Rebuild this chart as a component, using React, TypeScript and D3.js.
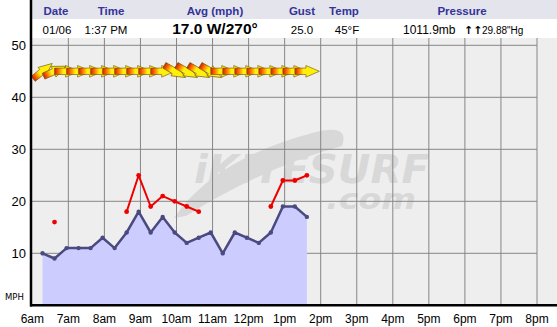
import React from "react";
import * as d3 from "d3";

const times = ["06:17","06:37","06:57","07:17","07:37","07:57","08:17","08:37","08:57","09:17","09:37","09:57","10:17","10:37","10:57","11:17","11:37","11:57","12:17","12:37","12:57","13:17","13:37"];
const avgSpeed = [10,9,11,11,11,13,11,14,18,14,17,14,12,13,14,10,14,13,12,14,19,19,17];
const gustSpeed: (number | null)[] = [null,16,null,null,null,null,null,18,25,19,21,20,19,18,null,null,null,null,null,19,24,24,25];
const windDir = [231,246,270,270,270,270,270,270,270,270,270,300,300,300,300,270,270,270,270,270,270,270,270];
const yTicks = [10,20,30,40,50];
const headerLabels = ["Date","Time","Avg (mph)","Gust","Temp","Pressure"];
const headerValues = ["01/06","1:37 PM","17.0 W/270°","25.0","45°F"];
const pressureMb = "1011.9mb";
const pressureHg = "29.88\"Hg";
const arrowLevel = 45;

const W = 557, H = 327;
const parse = d3.timeParse("%H:%M");

export default function App() {
  const x = d3.scaleTime().domain([parse("06:00")!, parse("20:00")!]).range([32.3, 537]);
  const y = d3.scaleLinear().domain([0, 50]).range([305.3, 45.3]);
  const pts = times.map((t, i) => ({ t: parse(t)!, v: avgSpeed[i], g: gustSpeed[i], d: windDir[i] }));
  const hourTicks = x.ticks(d3.timeHour.every(1)!);
  const fmt = d3.timeFormat("%-I%p");

  const area = d3.area<any>().x(d => x(d.t)).y0(y(0)).y1(d => y(d.v));
  const line = d3.line<any>().x(d => x(d.t)).y(d => y(d.v));
  const gLine = d3.line<any>().defined(d => d.g != null).x(d => x(d.t)).y(d => y(d.g));

  const headerX = [56, 111, 215, 302, 344, 462];
  const valueX = [57, 106, 215, 302, 347];
  const sans = "'Liberation Sans', Arial, sans-serif";

  return (
    <svg width={W} height={H} style={{ position: "absolute", left: 0, top: 0, background: "#fff" }} fontFamily={sans}>
      <defs>
        <linearGradient id="arrowGrad" gradientUnits="userSpaceOnUse" x1={-12} x2={12} y1={0} y2={0}>
          <stop offset="0" stopColor="#d81e00" />
          <stop offset="0.12" stopColor="#f05a00" />
          <stop offset="0.24" stopColor="#ffa200" />
          <stop offset="0.36" stopColor="#ffee10" />
          <stop offset="1" stopColor="#fff200" />
        </linearGradient>
      </defs>
      {/* header */}
      <rect x={31} y={0} width={W - 31} height={19} fill="#e4e4ec" />
      <rect x={31} y={19} width={W - 31} height={19} fill="#ffffff" />
      {headerLabels.map((l, i) => (
        <text key={l} x={headerX[i]} y={14.5} textAnchor="middle" fontSize={11.5} fontWeight="bold" fill="#333399">{l}</text>
      ))}
      {headerValues.map((v, i) => (
        <text key={v} x={valueX[i]} y={33.5} textAnchor="middle" fontSize={i === 2 ? 15.5 : 11.5} fontWeight={i === 2 ? "bold" : "normal"} fill="#000">{v}</text>
      ))}
      <text x={403} y={33.5} fontSize={12} fill="#000">{pressureMb}</text>
      <text x={464} y={33.5} fontSize={11} fontWeight="bold" fontFamily="'DejaVu Sans', sans-serif" fill="#000">↑↑</text>
      <text x={482} y={33.5} fontSize={10} fill="#000">{pressureHg}</text>

      {/* plot background */}
      <rect x={31} y={38} width={W - 31} height={305.3 - 38} fill="#eeeeee" />

      {/* watermark */}
      <g fill="#d8d8d8">
        <path d="M174,218 Q215,158 316,132 Q350,124 342,146 Q262,168 186,216 Z" />
        <text x={194} y={183} fontSize={39} fontWeight="bold" fontStyle="italic" textLength={235} lengthAdjust="spacingAndGlyphs" fontFamily="'DejaVu Sans', sans-serif">iKITESURF</text>
        <text x={326} y={208.5} fontSize={28} fontWeight="bold" fontStyle="italic" textLength={90} lengthAdjust="spacingAndGlyphs" fontFamily="'DejaVu Sans', sans-serif">.com</text>
      </g>

      {/* grid */}
      {yTicks.map(t => (
        <line key={t} x1={31} x2={537} y1={y(t)} y2={y(t)} stroke="#868686" strokeWidth={1} />
      ))}
      {hourTicks.slice(1).map((t, i) => (
        <line key={i} x1={x(t)} x2={x(t)} y1={38} y2={305} stroke="#868686" strokeWidth={1} />
      ))}

      {/* avg area + line */}
      <path d={area(pts)!} fill="#ccccff" />
      <path d={line(pts)!} fill="none" stroke="#4a4a80" strokeWidth={2.5} strokeLinejoin="round" />
      {pts.map((p, i) => <circle key={i} cx={x(p.t)} cy={y(p.v)} r={2.2} fill="#4a4a80" />)}

      {/* gust */}
      <path d={gLine(pts)!} fill="none" stroke="#ee0000" strokeWidth={2} strokeLinejoin="round" />
      {pts.filter(p => p.g != null).map((p, i) => <circle key={i} cx={x(p.t)} cy={y(p.g as number)} r={2.4} fill="#ee0000" />)}

      {/* wind arrows */}
      {pts.map((p, i) => {
        const ang = p.d + 180 - 90;
        return (
          <g key={i} transform={`translate(${x(p.t)},${y(arrowLevel)}) rotate(${ang})`}>
            <path d="M-12,-3.2 L-1,-3.2 L-1,-5.8 L12.5,0 L-1,5.8 L-1,3.2 L-12,3.2 Z" fill="url(#arrowGrad)" stroke="#6b5200" strokeWidth={0.6} strokeLinejoin="round" />
          </g>
        );
      })}

      {/* axes */}
      <line x1={31} x2={31} y1={0} y2={306.5} stroke="#000" strokeWidth={2.5} />
      <line x1={30} x2={W} y1={305.3} y2={305.3} stroke="#000" strokeWidth={2.5} />
      {yTicks.map(t => (
        <text key={t} x={26} y={y(t) + 4.5} textAnchor="end" fontSize={13} fill="#000">{t}</text>
      ))}
      <text x={5} y={300} fontSize={8.5} fontFamily="'DejaVu Sans', sans-serif" fill="#000">MPH</text>
      {hourTicks.map((t, i) => (
        <text key={i} x={x(t)} y={323} textAnchor="middle" fontSize={12} fill="#000">{fmt(t).toLowerCase()}</text>
      ))}
    </svg>
  );
}
